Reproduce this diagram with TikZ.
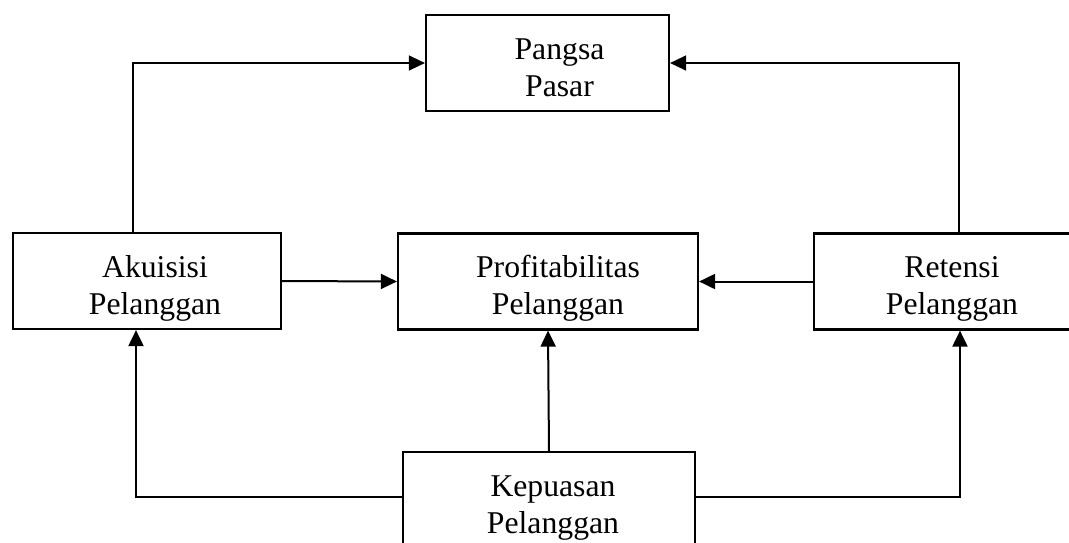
\documentclass[tikz,border=0pt]{standalone}
\usepackage{fontspec}
\setmainfont{Liberation Serif}
\usetikzlibrary{arrows.meta, positioning}
\newcommand{\twolines}[3][0pt]{\hspace*{#1}\rule{0pt}{44pt}#2\\\hspace*{#1}#3\rule[-15pt]{0pt}{15pt}}

\begin{document}
\begin{tikzpicture}[x=1pt, y=-1pt,
  box/.style={draw, line width=2.2pt, inner xsep=0pt, inner ysep=0pt, align=center,
    font=\fontsize{31.7pt}{37pt}\selectfont},
  link/.style={-{Triangle[length=16pt, width=15pt]}, line width=2pt}
]
\useasboundingbox (0,0) rectangle (1069,542);
\clip (0,0) rectangle (1069,542);
\fill[white] (0,0) rectangle (1069,542);
\node[box, minimum width=243pt] (pangsa) at (547.5,63) {\twolines[24pt]{Pangsa}{Pasar}};
\node[box, minimum width=268pt] (akuisisi) at (147,281) {\twolines[16pt]{Akuisisi}{Pelanggan}};
\node[box, minimum width=300pt] (profit) at (548,281.5) {\twolines[20pt]{Profitabilitas}{Pelanggan}};
\node[box, minimum width=276pt] (retensi) at (952,281.5) {\twolines{Retensi}{Pelanggan}};
\node[box, minimum width=292pt] (kepuasan) at (549,500) {\twolines[8pt]{Kepuasan}{Pelanggan}};
\draw[link, line width=1.5pt] ([xshift=-14pt]akuisisi.north) |- (pangsa.west);
\draw[link, line width=1.5pt] ([xshift=7pt]retensi.north) |- (pangsa.east);
\draw[link] (akuisisi.east) -- (profit.west);
\draw[link] (retensi.west) -- (profit.east);
\draw[link] (kepuasan.north) -- (profit.south);
\draw[link] ([yshift=3pt]kepuasan.west) -| ([xshift=-11pt]akuisisi.south);
\draw[link] ([yshift=3pt]kepuasan.east) -| ([xshift=8pt]retensi.south);
\end{tikzpicture}
\end{document}
